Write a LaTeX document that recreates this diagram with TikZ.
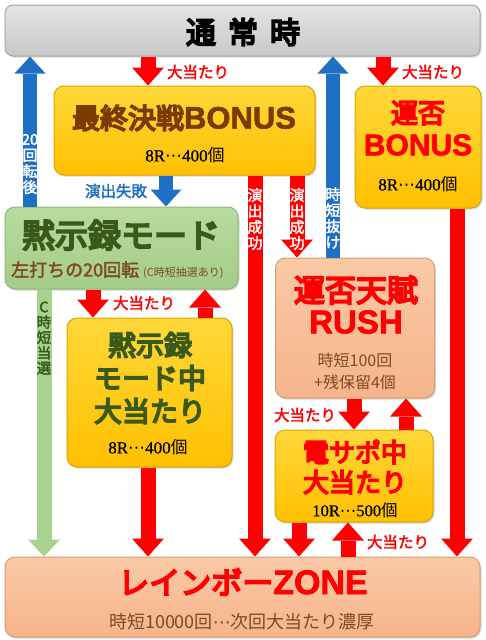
\documentclass[tikz,border=0pt]{standalone}
\usepackage{fontspec}
\usetikzlibrary{arrows.meta,shadows}
\newfontfamily\jp{Noto Sans CJK JP}
\newfontfamily\jpb[FakeBold=2.2]{Noto Sans CJK JP}
\newfontfamily\jph[FakeBold=6]{Noto Sans CJK JP}
\newfontfamily\lat[FakeBold=2]{Liberation Sans}
\newfontfamily\ser[FakeBold=0.6]{Liberation Serif}
\newfontfamily\dvs{DejaVu Sans}
\newcommand\fs[1]{\fontsize{#1}{#1}\selectfont}
\newcommand\hitcount[3]{{\ser\fs{#1}#2}{\dvs\fs{#1}⋯}{\ser\fs{#1}#3}{\jp\fs{#1}個}}
\definecolor{arrred}{HTML}{FF0000}
\definecolor{arrblue}{HTML}{1F6FC5}
\definecolor{arrgreen}{HTML}{A9D18E}
\definecolor{ttlbrown}{HTML}{7A3A00}
\definecolor{txtbrown}{HTML}{7F4A22}
\definecolor{dkgreen}{HTML}{3A5A1A}
\definecolor{yelT}{HTML}{FFD83A}
\definecolor{yelB}{HTML}{FFC000}
\definecolor{yelD}{HTML}{D9A300}
\definecolor{salT}{HTML}{FAC9A6}
\definecolor{salB}{HTML}{F6B58C}
\definecolor{salD}{HTML}{D89A70}
\definecolor{grnT}{HTML}{B8DB9F}
\definecolor{grnB}{HTML}{A4CC88}
\definecolor{grnD}{HTML}{8DB872}
\definecolor{gryT}{HTML}{E4E4E4}
\definecolor{gryB}{HTML}{C8C8C8}
\definecolor{gryD}{HTML}{A8A8A8}
\tikzset{
  box/.style={rounded corners=10pt, line width=1pt, inner sep=0pt,
    drop shadow={shadow xshift=1.5pt, shadow yshift=-1.5pt, opacity=0.3}},
  graybox/.style={box, draw=gryD, top color=gryT, bottom color=gryB},
  yelbox/.style={box, draw=yelD, top color=yelT, bottom color=yelB},
  salbox/.style={box, draw=salD, top color=salT, bottom color=salB},
  grnbox/.style={box, draw=grnD, top color=grnT, bottom color=grnB},
  txt/.style={inner sep=0pt, align=center},
  redarr/.style={draw=arrred, line width=15pt, -{Triangle[width=32pt,length=18pt,line width=0pt]}},
  bluearr/.style={draw=arrblue, line width=14pt, -{Triangle[width=31pt,length=17pt,line width=0pt]}},
  greenarr/.style={draw=arrgreen, line width=15pt, -{Triangle[width=32pt,length=17pt,line width=0pt]}},
  hitlbl/.style={txt, text=arrred, font={\jpb\fs{15.5}}},
  vlbl/.style={txt, text=white, font={\jpb\fontsize{15}{16}\selectfont}},
}
\begin{document}
\begin{tikzpicture}[x=1pt,y=-1pt]
\useasboundingbox (0,0) rectangle (486,640);
% boxes
\node[graybox, minimum width=475pt, minimum height=51pt, rounded corners=8pt] (tsujo) at (242.5,30.5) {};
\node[yelbox, minimum width=261pt, minimum height=89pt] (saishu) at (184.5,130.5) {};
\node[yelbox, minimum width=126pt, minimum height=122pt] (unpi) at (418,147) {};
\node[grnbox, minimum width=233pt, minimum height=82pt] (mokuji) at (121.5,248) {};
\node[yelbox, minimum width=165pt, minimum height=149pt] (mhit) at (149.5,392.5) {};
\node[salbox, minimum width=159pt, minimum height=140pt] (rush) at (355,328) {};
\node[yelbox, minimum width=158pt, minimum height=92pt] (densapo) at (354,476) {};
\node[salbox, minimum width=475pt, minimum height=80pt] (zone) at (242.5,597) {};
% x positions of connectors
\coordinate (x30) at (30,0);
\coordinate (x44) at (44,0);
\coordinate (x93) at (93,0);
\coordinate (x148) at (148,0);
\coordinate (x166) at (166,0);
\coordinate (x205) at (205,0);
\coordinate (x255) at (255,0);
\coordinate (x297) at (297,0);
\coordinate (x299) at (299,0);
\coordinate (x333) at (333,0);
\coordinate (x348) at (348,0);
\coordinate (x354) at (354,0);
\coordinate (x383) at (383,0);
\coordinate (x406) at (406,0);
\coordinate (x457) at (457,0);
% connectors
\draw[redarr] (x148 |- tsujo.south) -- (x148 |- saishu.north);
\draw[redarr] (x383 |- tsujo.south) -- (x383 |- unpi.north);
\draw[bluearr] (x30 |- mokuji.north) -- (x30 |- tsujo.south);
\draw[bluearr] (x166 |- saishu.south) -- (x166 |- mokuji.north);
\draw[redarr] (x255 |- saishu.south) -- (x255 |- zone.north);
\draw[redarr] (x297 |- saishu.south) -- (x297 |- rush.north);
\draw[bluearr] (x333 |- rush.north) -- (x333 |- tsujo.south);
\draw[redarr] (x457 |- unpi.south) -- (x457 |- zone.north);
\draw[greenarr] (x44 |- mokuji.south) -- (x44 |- zone.north);
\draw[redarr] (x93 |- mokuji.south) -- (x93 |- mhit.north);
\draw[redarr] (x205 |- mhit.north) -- (x205 |- mokuji.south);
\draw[redarr] (x148 |- mhit.south) -- (x148 |- zone.north);
\draw[redarr] (x354 |- rush.south) -- (x354 |- densapo.north);
\draw[redarr] (x406 |- densapo.north) -- (x406 |- rush.south);
\draw[redarr] (x299 |- densapo.south) -- (x299 |- zone.north);
\draw[redarr] (x348 |- zone.north) -- (x348 |- densapo.south);
% box texts
\node[txt, font={\jph\fs{30}}] (tsujoT) at (243,32) {通\hspace{12pt}常\hspace{12pt}時};
\node[txt, text=ttlbrown] (saishuT) at (184,118) {{\jph\fs{28}最終決戦}{\lat\bfseries\fs{31}BONUS}};
\node[txt] (saishuS) at (185,155) {\hitcount{17}{8R}{400}};
\node[txt, text=arrred, font={\jph\fs{27}}] (unpiT1) at (418,113) {運否};
\node[txt, text=arrred, font={\lat\bfseries\fs{30}}] (unpiT2) at (418,145) {BONUS};
\node[txt] (unpiS) at (418,184) {\hitcount{17}{8R}{400}};
\node[txt, text=dkgreen, font={\jph\fs{33}}] (mokujiT) at (121,235) {黙示録モード};
\node[txt, text=txtbrown, anchor=west] (mokujiS) at (11,270) {{\jpb\fs{18}左打ちの20回転}\hspace{4pt}{\jp\fs{11}(C時短抽選あり)}};
\node[txt, text=dkgreen, font={\jph\fontsize{28}{33}\selectfont}] (mhitT) at (150,378) {黙示録\\モード中\\大当たり};
\node[txt] (mhitS) at (148,447) {\hitcount{17}{8R}{400}};
\node[txt, text=arrred, font={\jph\fs{31}}] (rushT1) at (356,290) {運否天賦};
\node[txt, text=arrred, font={\lat\bfseries\fs{33}}] (rushT2) at (356,322) {RUSH};
\node[txt, text=txtbrown, font={\jp\fontsize{16}{22}\selectfont}] (rushS) at (355,371) {時短100回\\+残保留4個};
\node[txt, text=arrred, font={\jph\fontsize{26}{30}\selectfont}] (densapoT) at (355,467) {電サポ中\\大当たり};
\node[txt] (densapoS) at (355,510) {\hitcount{16.5}{10R}{500}};
\node[txt, text=arrred] (zoneT) at (243,582) {{\jph\fs{31}レインボー}{\lat\bfseries\fs{34}ZONE}};
\node[txt, text=txtbrown, font={\jp\fs{18}}] (zoneS) at (242,622) {時短10000回{\dvs\fs{18}⋯}次回大当たり濃厚};
% connector labels
\node[hitlbl] (l1) at (198,72) {大当たり};
\node[hitlbl] (l2) at (433,72) {大当たり};
\node[txt, text=arrblue, font={\jpb\fs{15.5}}] (l3) at (116,191) {演出失敗};
\node[hitlbl] (l4) at (144,303) {大当たり};
\node[hitlbl] (l5) at (305,415) {大当たり};
\node[hitlbl] (l6) at (398,542) {大当たり};
\node[vlbl] (v1) at (30,164) {20\\回\\転\\後};
\node[vlbl] (v2) at (255,219) {演\\出\\成\\功};
\node[vlbl] (v3) at (297,219) {演\\出\\成\\功};
\node[vlbl] (v4) at (333,218) {時\\短\\抜\\け};
\node[vlbl, text=dkgreen, font={\jpb\fontsize{14.5}{15.3}\selectfont}] (v5) at (44,338) {C\\時\\短\\当\\選};
\end{tikzpicture}
\end{document}
